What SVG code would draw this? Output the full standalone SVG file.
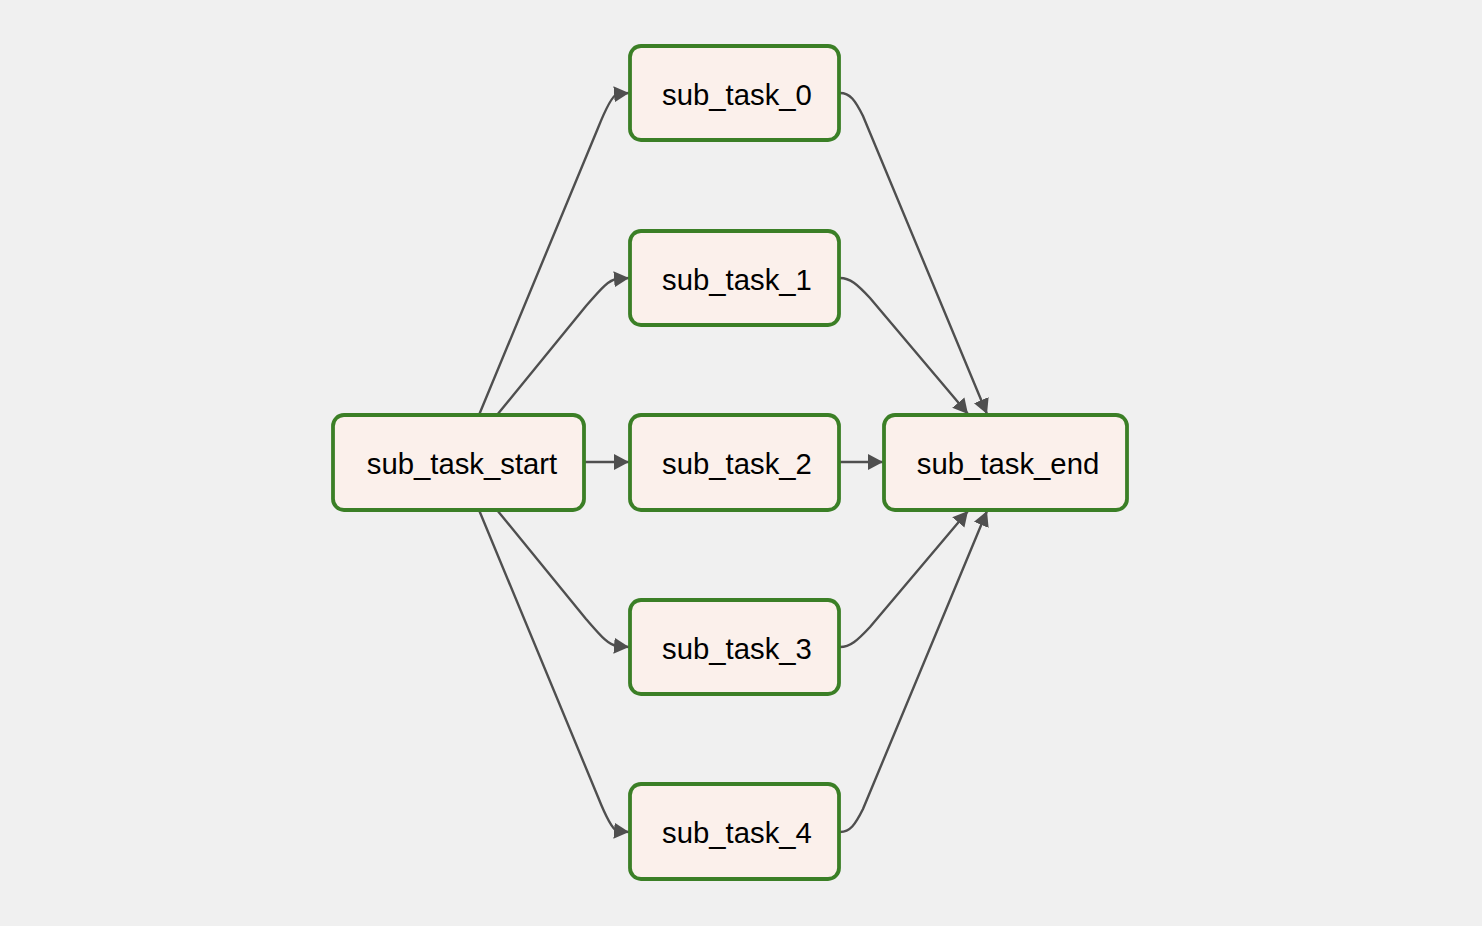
<svg xmlns="http://www.w3.org/2000/svg" width="1482" height="926" viewBox="0 0 1482 926">
<style>
.node rect{fill:#fbf0eb;stroke:#3b7f26;stroke-width:3.8}
.node text{font-family:"Liberation Sans",Arial,sans-serif;font-size:29.3px;fill:#000;text-anchor:middle}
.edge{fill:none;stroke:#4f4f4f;stroke-width:2.4}
</style>
<defs>
<marker id="arr" markerUnits="userSpaceOnUse" markerWidth="16" markerHeight="16" refX="15" refY="8" orient="auto" viewBox="0 0 16 16">
<path d="M0,0 L15,8 L0,16 z" fill="#4f4f4f"/>
</marker>
</defs>
<rect width="1482" height="926" fill="#f0f0f0"/>
<g id="edges">
<path class="edge" marker-end="url(#arr)" d="M479,415 L598,128 C606,108 612,96 617,94 L629,93"/>
<path class="edge" marker-end="url(#arr)" d="M497,415 L586,306 C600,290 608,280 617,279 L629,278"/>
<path class="edge" marker-end="url(#arr)" d="M585,462 L629,462"/>
<path class="edge" marker-end="url(#arr)" d="M497,510 L586,619 C600,635 608,645 617,646 L629,647"/>
<path class="edge" marker-end="url(#arr)" d="M479,510 L598,797 C606,817 612,829 617,831 L629,832"/>
<path class="edge" marker-end="url(#arr)" d="M840,93 C850,93 855,100 863,116 L987,414"/>
<path class="edge" marker-end="url(#arr)" d="M840,278 C850,278 857,284 870,298 L968,414"/>
<path class="edge" marker-end="url(#arr)" d="M840,462 L883,462"/>
<path class="edge" marker-end="url(#arr)" d="M840,647 C850,647 857,641 870,627 L968,511"/>
<path class="edge" marker-end="url(#arr)" d="M840,832 C850,832 855,825 863,809 L987,511"/>
</g>
<g id="sub_task_start" class="node"><rect x="333" y="415" width="251" height="95" rx="11"/><text x="462" y="474">sub_task_start</text></g>
<g id="sub_task_0" class="node"><rect x="630" y="46" width="209" height="94" rx="11"/><text x="737" y="105">sub_task_0</text></g>
<g id="sub_task_1" class="node"><rect x="630" y="231" width="209" height="94" rx="11"/><text x="737" y="290">sub_task_1</text></g>
<g id="sub_task_2" class="node"><rect x="630" y="415" width="209" height="95" rx="11"/><text x="737" y="474">sub_task_2</text></g>
<g id="sub_task_3" class="node"><rect x="630" y="600" width="209" height="94" rx="11"/><text x="737" y="659">sub_task_3</text></g>
<g id="sub_task_4" class="node"><rect x="630" y="784" width="209" height="95" rx="11"/><text x="737" y="843">sub_task_4</text></g>
<g id="sub_task_end" class="node"><rect x="884" y="415" width="243" height="95" rx="11"/><text x="1008" y="474">sub_task_end</text></g>
</svg>
